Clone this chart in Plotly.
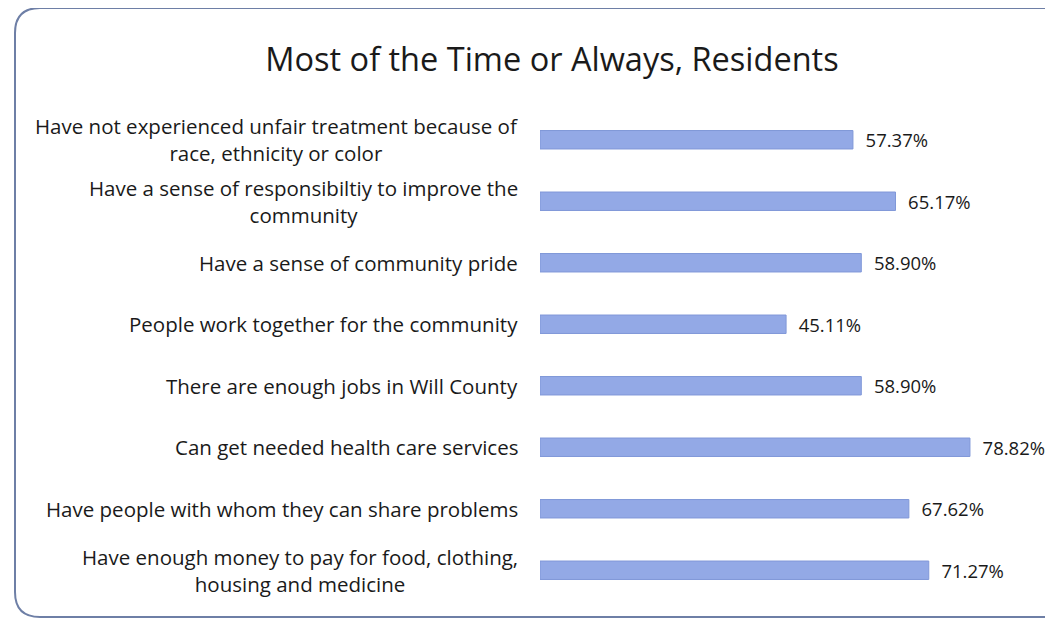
import plotly.graph_objects as go

categories = [
    "Have not experienced unfair treatment because of<br>race, ethnicity or color",
    "Have a sense of responsibiltiy to improve the<br>community",
    "Have a sense of community pride",
    "People work together for the community",
    "There are enough jobs in Will County",
    "Can get needed health care services",
    "Have people with whom they can share problems",
    "Have enough money to pay for food, clothing,<br>housing and medicine",
]
values = [57.37, 65.17, 58.90, 45.11, 58.90, 78.82, 67.62, 71.27]
title_text = "Most of the Time or Always, Residents"

OFF = 8  # page body margin
W, H = 1053 - 2 * OFF, 627 - 2 * OFF
ML, MR, MT, MB = 540 - OFF, 14, 109 - OFF, 18
PW = W - ML - MR
PH = H - MT - MB
XMAX = PW / 5.455

def px_x(p):
    return (p - OFF - ML) / PW

def px_y(p):
    return 1 - (p - OFF - MT) / PH

FONT = "Open Sans"
TXT = "#1a1a1a"

fig = go.Figure()
fig.add_trace(go.Bar(
    x=values,
    y=categories,
    orientation="h",
    marker=dict(color="#93a9e6", line=dict(color="#8098d8", width=1)),
    texttemplate="  %{x:.2f}%",
    textposition="outside",
    constraintext="none",
    cliponaxis=False,
    textfont=dict(family=FONT, size=18.5, color=TXT),
    width=0.3,
    hoverinfo="skip",
))

annotations = []
for c in categories:
    annotations.append(dict(
        x=px_x(520), xref="paper", y=c, yref="y",
        text=c, showarrow=False, xanchor="right", yanchor="middle",
        align="center", font=dict(family=FONT, size=20.5, color=TXT),
    ))

# rounded frame
x0, x1 = px_x(15), px_x(1070)
y0, y1 = px_y(8), px_y(617)
rx = 25 / PW
ry = 25 / PH
path = (f"M {x0+rx},{y0} L {x1},{y0} L {x1},{y1} L {x0+rx},{y1} "
        f"Q {x0},{y1} {x0},{y1+ry} L {x0},{y0-ry} Q {x0},{y0} {x0+rx},{y0} Z")
shapes = [dict(type="path", xref="paper", yref="paper", path=path,
               line=dict(color="#6e7fa6", width=2), fillcolor="rgba(0,0,0,0)")]

fig.update_layout(
    width=W, height=H,
    margin=dict(l=ML, r=MR, t=MT, b=MB),
    paper_bgcolor="white", plot_bgcolor="white",
    title=dict(text=title_text, x=(552 - OFF) / W, xanchor="center",
               y=1 - (60 - OFF) / H, yanchor="middle",
               font=dict(family=FONT, size=32.5, color=TXT)),
    xaxis=dict(range=[0, XMAX], visible=False, fixedrange=True),
    yaxis=dict(autorange="reversed", showticklabels=False, showgrid=False,
               zeroline=False, showline=False, ticks=""),
    annotations=annotations,
    shapes=shapes,
    showlegend=False,
    bargap=0.7,
)

fig.write_html("out.html")
